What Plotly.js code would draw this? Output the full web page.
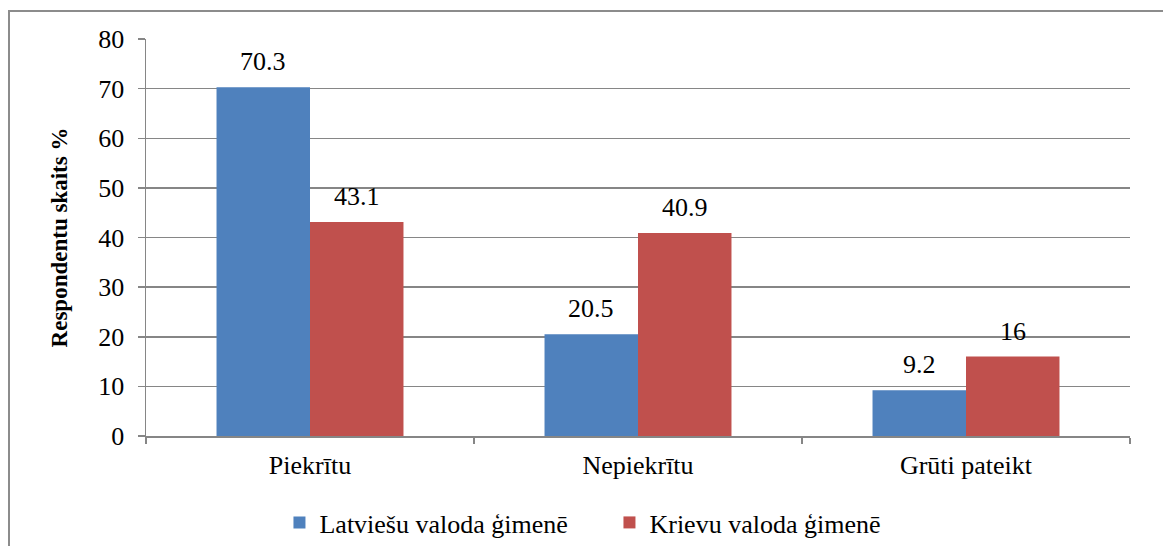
<!DOCTYPE html>
<html><head><meta charset="utf-8">
<script src="https://cdn.plot.ly/plotly-3.0.1.min.js"></script>
<style>
html,body{margin:0;padding:0;background:#fff;}
#frame{position:absolute;left:8px;top:10px;width:1200px;height:600px;border-left:2px solid #8c8c8c;border-top:2px solid #8c8c8c;}
#chart{position:absolute;left:0;top:0;width:1163px;height:546px;}
</style></head>
<body>
<div id="frame"></div>
<div id="chart"></div>
<script>
const categories = ["Piekrītu", "Nepiekrītu", "Grūti pateikt"];
const seriesNames = ["Latviešu valoda ģimenē", "Krievu valoda ģimenē"];
const latvian = [70.3, 20.5, 9.2];
const russian = [43.1, 40.9, 16];
const yTicks = [0, 10, 20, 30, 40, 50, 60, 70, 80];
const colors = ["#4F81BD", "#C0504D"];
const FONT = "Liberation Serif";
const FS = 26;

const series = [latvian, russian];
const bargap = 0.43;
const barW = (1 - bargap) / 2;
const traces = series.map((vals, s) => ({
  type: "bar", x: categories, y: vals, name: seriesNames[s],
  marker: {color: colors[s], line: {width: 0}}, hoverinfo: "none"
}));
const annotations = [];
series.forEach((vals, s) => {
  vals.forEach((v, i) => {
    annotations.push({
      x: i + (s === 0 ? -barW / 2 : barW / 2), y: v, xref: "x", yref: "y",
      text: String(v), showarrow: false, yanchor: "bottom", yshift: 9,
      font: {family: FONT, size: FS, color: "#000"}
    });
  });
});

const layout = {
  width: 1163, height: 546,
  margin: {l: 146, r: 33, t: 39, b: 110},
  paper_bgcolor: "rgba(0,0,0,0)", plot_bgcolor: "rgba(0,0,0,0)",
  font: {family: FONT, size: FS, color: "#000"},
  barmode: "group", bargap: bargap, bargroupgap: 0,
  showlegend: true,
  legend: {orientation: "h", x: 0.471, xanchor: "center", yref: "container", y: 0.043, yanchor: "middle",
    font: {family: FONT, size: FS, color: "#000"}, itemwidth: 30, entrywidth: 285, traceorder: "normal"},
  xaxis: {type: "category", showgrid: false, showline: true, linecolor: "#868686", linewidth: 1.5,
    ticks: "outside", tickson: "boundaries", ticklen: 6, tickcolor: "#868686", tickwidth: 1.5,
    tickfont: {family: FONT, size: FS}, ticklabelstandoff: 5, range: [-0.5, 2.5]},
  yaxis: {range: [0, 80], tickvals: yTicks, ticktext: yTicks.map(String), showgrid: true,
    gridcolor: "#868686", gridwidth: 1.5, showline: true, linecolor: "#868686", linewidth: 1.5,
    ticks: "outside", ticklen: 7, tickcolor: "#868686", tickwidth: 1.5, zeroline: false,
    tickfont: {family: FONT, size: FS}, ticklabelstandoff: 8,
    title: {text: "<b>Respondentu skaits %</b>", font: {family: FONT, size: 23}, standoff: 24}},
  annotations: annotations
};
Plotly.newPlot("chart", traces, layout, {displayModeBar: false, staticPlot: true});
</script>
</body></html>
